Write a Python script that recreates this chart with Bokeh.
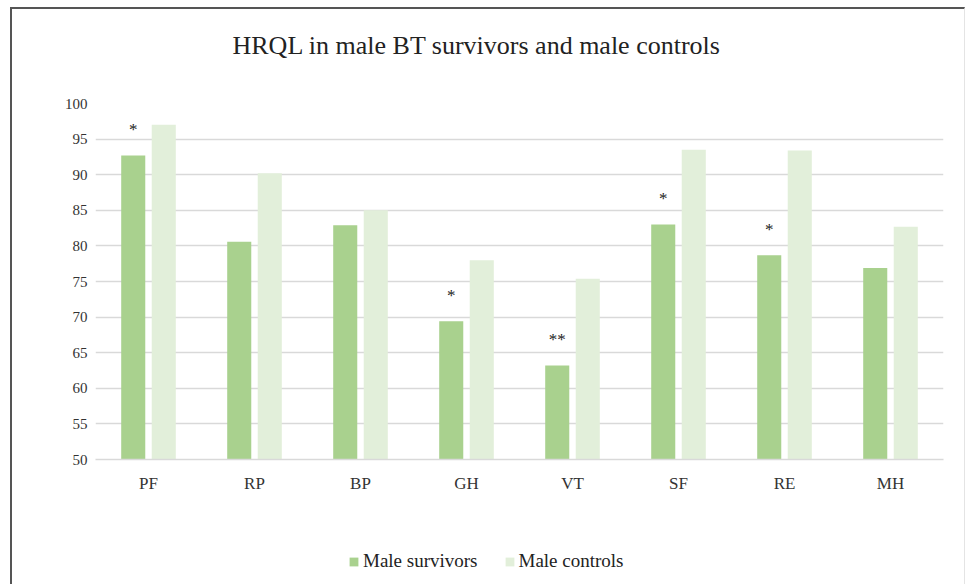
from bokeh.plotting import figure
from bokeh.layouts import column
from bokeh.models import (ColumnDataSource, FactorRange, Range1d, FixedTicker,
                          Legend, LegendItem, Title)
from bokeh.transform import dodge
from bokeh.core.properties import value
from bokeh.embed import file_html
from bokeh.resources import INLINE

categories = ["PF", "RP", "BP", "GH", "VT", "SF", "RE", "MH"]
male_survivors = [92.7, 80.6, 82.9, 69.4, 63.2, 83.0, 78.7, 76.9]
male_controls = [97.0, 90.2, 85.0, 78.0, 75.4, 93.5, 93.4, 82.7]
significance = ["*", "", "", "*", "**", "*", "*", ""]
y_ticks = [50, 55, 60, 65, 70, 75, 80, 85, 90, 95, 100]

SERIF = "Liberation Serif"
C_SURV = "#A9D18E"
C_CTRL = "#E2EFDA"
GRID = "#D9D9D9"

star_offset = 3.6
source = ColumnDataSource(dict(
    cat=categories,
    surv=male_survivors,
    ctrl=male_controls,
    sig=significance,
    sig_y=[v + star_offset for v in male_survivors],
))

# ---------------- main chart ----------------
p = figure(frame_width=848, frame_height=356, output_backend="svg", toolbar_location=None,
           x_range=FactorRange(*categories), y_range=Range1d(50, 100),
           min_border_left=83, min_border_right=21, min_border_top=94,
           min_border_bottom=60, outline_line_color=None)

r1 = p.vbar(x=dodge("cat", -0.144, range=p.x_range), top="surv", bottom=50,
            width=0.227, source=source, fill_color=C_SURV, line_color=None)
r2 = p.vbar(x=dodge("cat", 0.144, range=p.x_range), top="ctrl", bottom=50,
            width=0.227, source=source, fill_color=C_CTRL, line_color=None)
p.text(x=dodge("cat", -0.144, range=p.x_range), y="sig_y", text="sig", source=source,
       text_font=value(SERIF), text_font_size="17px", text_align="center",
       text_baseline="middle", text_color="#222222")

# spacer between frame and title, then the title itself
p.add_layout(Title(text=" ", text_font_size="2px", standoff=40), "above")
p.add_layout(Title(text="HRQL in male BT survivors and male controls", align="left",
                   offset=137, text_font=SERIF, text_font_size="26px",
                   text_font_style="normal", text_color="#222222", standoff=0), "above")

p.xgrid.grid_line_color = None
p.ygrid.grid_line_color = GRID
p.ygrid.grid_line_width = 1.5
p.yaxis.ticker = FixedTicker(ticks=y_ticks)
p.yaxis.axis_line_color = None
p.yaxis.major_tick_line_color = None
p.yaxis.minor_tick_line_color = None
p.yaxis.major_label_text_font = SERIF
p.yaxis.major_label_text_font_size = "15px"
p.yaxis.major_label_text_color = "#333333"
p.yaxis.major_label_standoff = 2

p.xaxis.axis_line_color = GRID
p.xaxis.axis_line_width = 1.5
p.xaxis.major_tick_line_color = None
p.xaxis.minor_tick_line_color = None
p.xaxis.major_label_text_font = SERIF
p.xaxis.major_label_text_font_size = "17px"
p.xaxis.major_label_text_color = "#333333"
p.xaxis.major_label_standoff = 8

# ---------------- legend strip ----------------
# Zero-width copies of the two series supply the legend swatches only.
lg = figure(width=952, height=65, output_backend="svg", toolbar_location=None,
            x_range=FactorRange(*categories), y_range=Range1d(0, 1),
            x_axis_type=None, y_axis_type=None, min_border=0,
            outline_line_color=None)
lg.grid.grid_line_color = None
l1 = lg.vbar(x="cat", top="surv", bottom=50, width=0, source=source,
             fill_color=C_SURV, line_color=None)
l2 = lg.vbar(x="cat", top="ctrl", bottom=50, width=0, source=source,
             fill_color=C_CTRL, line_color=None)
legend = Legend(items=[LegendItem(label="Male survivors", renderers=[l1]),
                       LegendItem(label="Male controls", renderers=[l2])],
                orientation="horizontal", location=(253, 12),
                label_text_font=SERIF, label_text_font_size="19px",
                label_text_color="#222222", glyph_width=11, glyph_height=11,
                label_standoff=4, spacing=26, border_line_color=None,
                background_fill_alpha=0, margin=0, padding=0)
lg.add_layout(legend, "center")

layout = column(p, lg, spacing=0)
layout.styles = {"border-top": "2px solid #555555", "border-left": "2px solid #555555",
                 "border-right": "1px solid #E4E4E4", "margin-left": "10px",
                 "margin-top": "7px"}

open("out.html", "w").write(file_html(layout, INLINE))
